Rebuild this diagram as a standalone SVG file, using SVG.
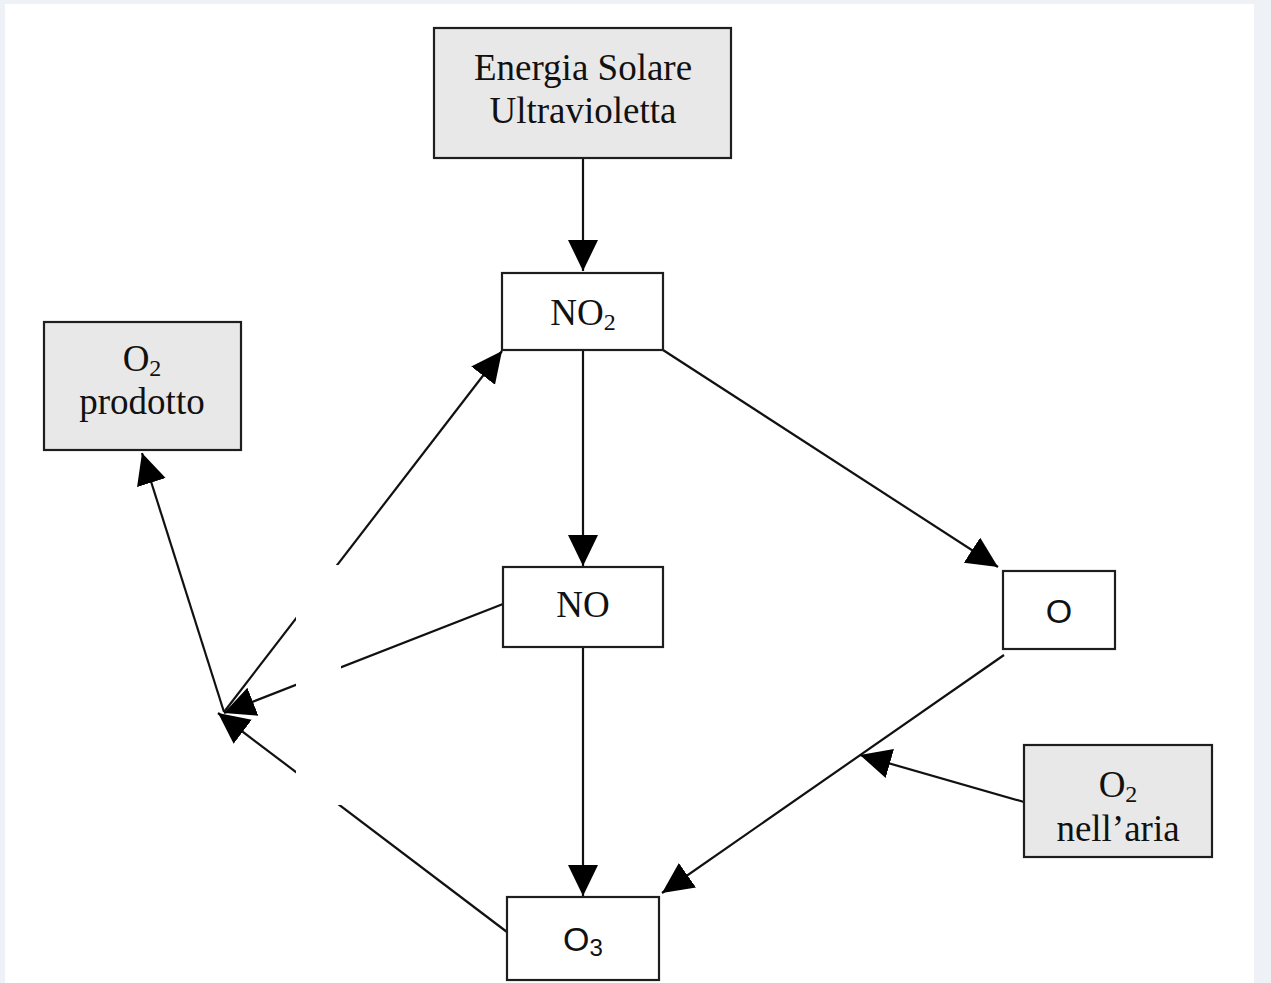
<svg xmlns="http://www.w3.org/2000/svg" width="1271" height="983" viewBox="0 0 1271 983">
<style>
.box{stroke:#1e1e1e;stroke-width:2.2}
.grey{fill:#e8e8e8}
.white{fill:#ffffff}
.t{font-family:"Liberation Serif","Times New Roman",serif;font-size:37px;fill:#111;text-anchor:middle}
.ts{font-family:"Liberation Sans",Arial,sans-serif;font-size:34px;fill:#111;text-anchor:middle}
.sub{font-size:24px}
.c{stroke:#111;stroke-width:2.2;fill:none}
</style>
<defs>
<marker id="ah" markerUnits="userSpaceOnUse" markerWidth="34" markerHeight="32" refX="31" refY="15" orient="auto">
<path d="M0,0 L31,15 L0,30 z" fill="#000"/>
</marker>
</defs>
<rect x="0" y="0" width="1271" height="983" fill="#eef1f6"/>
<rect x="5" y="4" width="1249" height="979" fill="#ffffff"/>

<g id="connectors">
<line class="c" x1="583" y1="158" x2="583" y2="271" marker-end="url(#ah)"/>
<line class="c" x1="583" y1="350" x2="583" y2="566" marker-end="url(#ah)"/>
<line class="c" x1="583" y1="647" x2="583" y2="896" marker-end="url(#ah)"/>
<line class="c" x1="663" y1="350" x2="998" y2="567" marker-end="url(#ah)"/>
<line class="c" x1="1004" y1="655" x2="662" y2="893" marker-end="url(#ah)"/>
<line class="c" x1="1024" y1="802" x2="860" y2="755" marker-end="url(#ah)"/>
<line class="c" x1="224" y1="712" x2="142" y2="453" marker-end="url(#ah)"/>
<line class="c" x1="224" y1="712" x2="502" y2="351" marker-end="url(#ah)"/>
<line class="c" x1="503" y1="604" x2="224" y2="713" marker-end="url(#ah)"/>
<line class="c" x1="507" y1="932" x2="218" y2="713" marker-end="url(#ah)"/>
<rect x="296" y="565" width="45" height="240" fill="#ffffff"/>
</g>

<g id="energia">
<rect class="box grey" x="434" y="28" width="297" height="130"/>
<text class="t" x="583" y="80">Energia Solare</text>
<text class="t" x="583" y="123">Ultravioletta</text>
</g>

<g id="no2">
<rect class="box white" x="502" y="273" width="161" height="77"/>
<text class="t" x="583" y="325">NO<tspan class="sub" dy="5">2</tspan></text>
</g>

<g id="no">
<rect class="box white" x="503" y="567" width="160" height="80"/>
<text class="t" x="583" y="617">NO</text>
</g>

<g id="o">
<rect class="box white" x="1003" y="571" width="112" height="78" stroke="#555"/>
<text class="ts" x="1059" y="623">O</text>
</g>

<g id="o3">
<rect class="box white" x="507" y="897" width="152" height="83"/>
<text class="ts" x="583" y="951">O<tspan class="sub" dy="5">3</tspan></text>
</g>

<g id="o2-prodotto">
<rect class="box grey" x="44" y="322" width="197" height="128"/>
<text class="t" x="142" y="371">O<tspan class="sub" dy="5">2</tspan></text>
<text class="t" x="142" y="414">prodotto</text>
</g>

<g id="o2-aria">
<rect class="box grey" x="1024" y="745" width="188" height="112"/>
<text class="t" x="1118" y="797">O<tspan class="sub" dy="5">2</tspan></text>
<text class="t" x="1118" y="841">nell’aria</text>
</g>
</svg>
